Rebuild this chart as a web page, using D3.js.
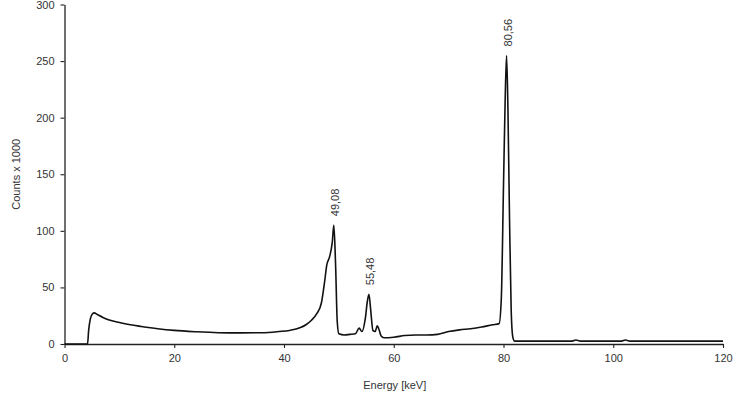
<!DOCTYPE html>
<html>
<head>
<meta charset="utf-8">
<script src="https://cdn.jsdelivr.net/npm/d3@7"></script>
<style>
  html, body { margin: 0; padding: 0; background: #fff; }
  svg { display: block; }
  text { font-family: "Liberation Sans", Arial, sans-serif; }
</style>
</head>
<body>
<svg id="chart" width="740" height="402"></svg>
<script>
// ---- data ----
const energy = [0, 4.2, 4.4, 4.7, 5.0, 5.4, 6, 7, 8, 10, 12, 14, 17, 20, 24, 28, 32, 36, 39, 41, 43, 44, 45, 46, 46.8, 47.4, 47.8, 48.3, 48.8, 49.08, 49.4, 49.7, 50, 51, 52, 53, 53.7, 54.2, 54.8, 55.2, 55.48, 55.8, 56.2, 56.6, 57.0, 57.3, 57.7, 58.2, 60, 62, 64, 66, 68, 70, 72, 74, 76, 78, 79.2, 79.6, 80.0, 80.3, 80.56, 80.8, 81.1, 81.4, 81.7, 82, 90, 92.5, 93.2, 94, 100, 101.5, 102.2, 103, 120];
const counts = [0, 0, 12, 22, 26, 27.5, 26, 23.5, 21.5, 19, 17, 15.5, 13.5, 12, 10.8, 10, 9.8, 10, 11, 12, 14.5, 17, 21, 27, 36, 55, 70, 77, 90, 105, 70, 20, 9, 8, 8.5, 9, 14, 11, 22, 38, 44, 30, 12, 11, 16, 13, 7, 5.5, 6, 7.5, 8, 8, 8.5, 11, 12.5, 13.5, 15, 17, 18, 40, 140, 215, 255, 210, 110, 30, 6, 2.5, 2.5, 2.5, 3.5, 2.5, 2.5, 2.5, 3.5, 2.5, 2.5];
const xTicks = [0, 20, 40, 60, 80, 100, 120];
const yTicks = [0, 50, 100, 150, 200, 250, 300];
const peakLabels = ["49,08", "55,48", "80,56"];
const peakEnergy = [49.08, 55.48, 80.56];
const peakCounts = [105, 44, 255];
const xTitle = "Energy [keV]";
const yTitle = "Counts x 1000";

// ---- chart ----
const svg = d3.select("#chart");
const x = d3.scaleLinear().domain([0, 120]).range([64.5, 723]);
const y = d3.scaleLinear().domain([0, 300]).range([344, 4.5]);
const axisColor = "#222";
const textColor = "#333";

const xAxis = svg.append("g").attr("transform", "translate(0,344)")
  .call(d3.axisBottom(x).tickValues(xTicks).tickSize(4).tickPadding(6).tickSizeOuter(0));
const yAxis = svg.append("g").attr("transform", "translate(64.5,0)")
  .call(d3.axisLeft(y).tickValues(yTicks).tickSize(4).tickPadding(6).tickSizeOuter(0));
[xAxis, yAxis].forEach(g => {
  g.selectAll("path").attr("stroke", axisColor).attr("stroke-width", 1.3);
  g.selectAll("line").attr("stroke", axisColor).attr("stroke-width", 1.1);
  g.selectAll("text").attr("fill", textColor).style("font-size", "11px")
    .style("font-family", '"Liberation Sans", Arial, sans-serif');
});

const data = energy.map((e, i) => [e, counts[i]]);
const line = d3.line().x(d => x(d[0])).y(d => y(d[1])).curve(d3.curveMonotoneX);
svg.append("path").datum(data).attr("d", line)
  .attr("fill", "none").attr("stroke", "#111").attr("stroke-width", 1.6)
  .attr("stroke-linejoin", "round");

svg.selectAll("text.peak").data(peakLabels).enter().append("text")
  .attr("class", "peak")
  .attr("transform", (d, i) => `translate(${x(peakEnergy[i]) + 5.5},${y(peakCounts[i]) - 9}) rotate(-90)`)
  .attr("text-anchor", "start")
  .attr("fill", textColor)
  .style("font-size", "11px")
  .text(d => d);

svg.append("text").attr("x", x(60) + 1).attr("y", 389).attr("text-anchor", "middle")
  .attr("fill", textColor).style("font-size", "11px").text(xTitle);
svg.append("text").attr("transform", `translate(20,${y(150)}) rotate(-90)`)
  .attr("text-anchor", "middle").attr("fill", textColor).style("font-size", "11px").text(yTitle);
</script>
</body>
</html>
